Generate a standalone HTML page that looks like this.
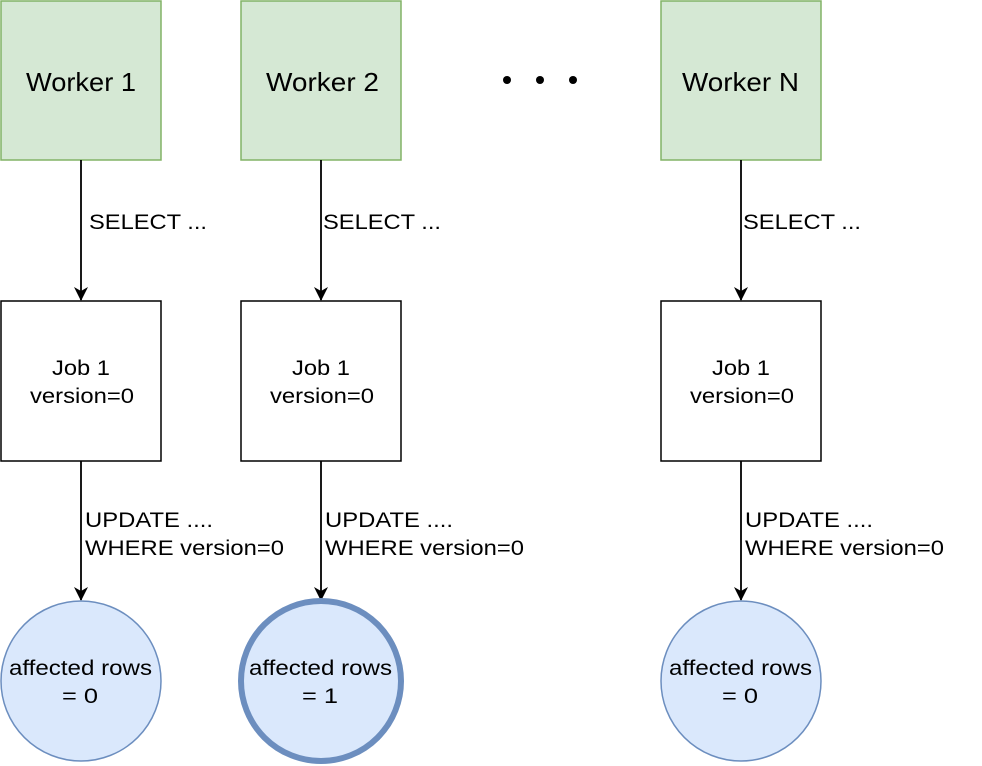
<!DOCTYPE html>
<html><head><style>body{margin:0;background:#fff}svg{display:block}</style></head><body>
<svg width="982" height="766" viewBox="0 0 982 766" xmlns="http://www.w3.org/2000/svg" font-family="Liberation Sans, sans-serif">
<defs><marker id="a" markerWidth="14" markerHeight="16" refX="13" refY="7" orient="auto" markerUnits="userSpaceOnUse"><path d="M0,0 L14,7 L0,14 L4,7 z" fill="#000"/></marker></defs>
<g fill="#d5e8d4" stroke="#82b366" stroke-width="1.5">
<rect x="1" y="1" width="160" height="159"/><rect x="241" y="1" width="160" height="159"/><rect x="661" y="1" width="160" height="159"/></g>
<g font-size="26" fill="#000" lengthAdjust="spacingAndGlyphs">
<text x="26" y="91" textLength="110" lengthAdjust="spacingAndGlyphs">Worker 1</text><text x="266" y="91" textLength="113" lengthAdjust="spacingAndGlyphs">Worker 2</text><text x="682" y="91" textLength="117" lengthAdjust="spacingAndGlyphs">Worker N</text></g>
<circle cx="507" cy="80" r="4"/><circle cx="540" cy="80" r="4"/><circle cx="573" cy="80" r="4"/>
<g stroke="#000" stroke-width="1.8" marker-end="url(#a)">
<line x1="81" y1="160" x2="81" y2="300"/><line x1="321" y1="160" x2="321" y2="300"/><line x1="741" y1="160" x2="741" y2="300"/>
<line x1="81" y1="461" x2="81" y2="600"/><line x1="321" y1="461" x2="321" y2="600"/><line x1="741" y1="461" x2="741" y2="600"/></g>
<g fill="#fff" stroke="#000" stroke-width="1.5">
<rect x="1" y="301" width="160" height="160"/><rect x="241" y="301" width="160" height="160"/><rect x="661" y="301" width="160" height="160"/></g>
<g font-size="21">
<text x="52" y="375" textLength="58" lengthAdjust="spacingAndGlyphs">Job 1</text><text x="30" y="403" textLength="104" lengthAdjust="spacingAndGlyphs">version=0</text>
<text x="292" y="375" textLength="58" lengthAdjust="spacingAndGlyphs">Job 1</text><text x="270" y="403" textLength="104" lengthAdjust="spacingAndGlyphs">version=0</text>
<text x="712" y="375" textLength="58" lengthAdjust="spacingAndGlyphs">Job 1</text><text x="690" y="403" textLength="104" lengthAdjust="spacingAndGlyphs">version=0</text>
<text x="89" y="229" textLength="118" lengthAdjust="spacingAndGlyphs">SELECT ...</text><text x="323" y="229" textLength="118" lengthAdjust="spacingAndGlyphs">SELECT ...</text><text x="743" y="229" textLength="118" lengthAdjust="spacingAndGlyphs">SELECT ...</text>
<text x="85" y="527" textLength="128" lengthAdjust="spacingAndGlyphs">UPDATE ....</text><text x="85" y="555" textLength="199" lengthAdjust="spacingAndGlyphs">WHERE version=0</text>
<text x="325" y="527" textLength="128" lengthAdjust="spacingAndGlyphs">UPDATE ....</text><text x="325" y="555" textLength="199" lengthAdjust="spacingAndGlyphs">WHERE version=0</text>
<text x="745" y="527" textLength="128" lengthAdjust="spacingAndGlyphs">UPDATE ....</text><text x="745" y="555" textLength="199" lengthAdjust="spacingAndGlyphs">WHERE version=0</text></g>
<circle cx="81" cy="681" r="80" fill="#dae8fc" stroke="#6c8ebf" stroke-width="1.5"/>
<circle cx="321" cy="681" r="80" fill="#dae8fc" stroke="#6c8ebf" stroke-width="6"/>
<circle cx="741" cy="681" r="80" fill="#dae8fc" stroke="#6c8ebf" stroke-width="1.5"/>
<g font-size="21">
<text x="9" y="675" textLength="143" lengthAdjust="spacingAndGlyphs">affected rows</text><text x="62" y="703" textLength="36" lengthAdjust="spacingAndGlyphs">= 0</text>
<text x="249" y="675" textLength="143" lengthAdjust="spacingAndGlyphs">affected rows</text><text x="302" y="703" textLength="36" lengthAdjust="spacingAndGlyphs">= 1</text>
<text x="669" y="675" textLength="143" lengthAdjust="spacingAndGlyphs">affected rows</text><text x="722" y="703" textLength="36" lengthAdjust="spacingAndGlyphs">= 0</text></g>
</svg></body></html>
